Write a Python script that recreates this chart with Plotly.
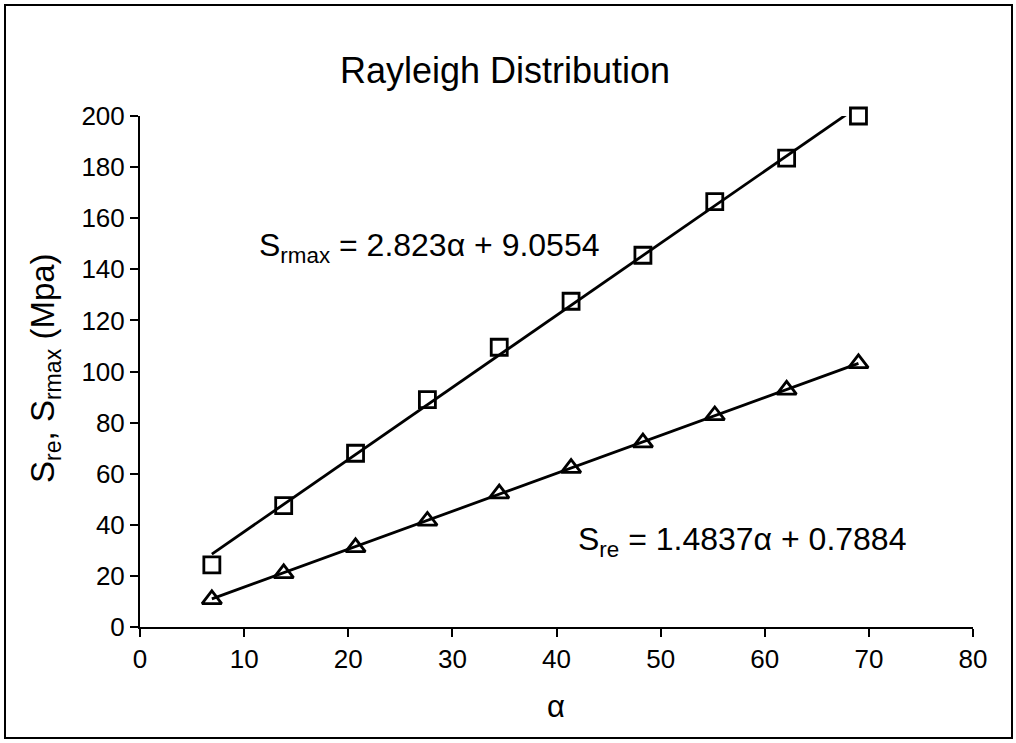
import plotly.graph_objects as go

# alpha values
alpha = [6.9, 13.8, 20.7, 27.6, 34.5, 41.4, 48.3, 55.2, 62.1, 69.0]
# maximum stress S_rmax (MPa)
s_rmax = [24.3, 47.5, 68.0, 89.0, 109.5, 127.5, 145.5, 166.5, 183.5, 200.0]
# equivalent stress S_re (MPa)
s_re = [10.8, 21.0, 31.2, 41.5, 52.2, 62.2, 72.2, 82.8, 92.8, 103.2]

# linear fits as stated in the equations
fit_rmax = (2.823, 9.0554)
fit_re = (1.4837, 0.7884)

x_ticks = [0, 10, 20, 30, 40, 50, 60, 70, 80]
y_ticks = [0, 20, 40, 60, 80, 100, 120, 140, 160, 180, 200]

FONT = "Liberation Sans, Arial, sans-serif"
W, H = 1016, 743
L, R, T, B = 140, 43, 116, 116

fit_x = [alpha[0], alpha[-1]]

fig = go.Figure()

fig.add_trace(go.Scatter(
    x=fit_x, y=[fit_rmax[0] * v + fit_rmax[1] for v in fit_x],
    mode="lines", line=dict(color="black", width=2.8), hoverinfo="skip"))
fig.add_trace(go.Scatter(
    x=fit_x, y=[fit_re[0] * v + fit_re[1] for v in fit_x],
    mode="lines", line=dict(color="black", width=2.8), hoverinfo="skip"))

fig.add_trace(go.Scatter(
    x=alpha, y=s_rmax, mode="markers", cliponaxis=False,
    marker=dict(symbol="square-open", size=16, color="black",
                line=dict(color="black", width=2.8))))
fig.add_trace(go.Scatter(
    x=alpha, y=s_re, mode="markers", cliponaxis=False,
    marker=dict(symbol="triangle-up-open", size=17, color="black",
                line=dict(color="black", width=2.8))))

pw, ph = W - L - R, H - T - B


def px_x(p):
    return (p - L) / pw


def px_y(p):
    return (H - B - p) / ph


# outer chart border
fig.add_shape(type="rect", xref="paper", yref="paper",
              x0=px_x(5), x1=px_x(1012), y0=px_y(738), y1=px_y(5),
              line=dict(color="black", width=2), layer="below")

eq_font = dict(family=FONT, size=32, color="black")
fig.add_annotation(x=px_x(257), y=px_y(247), xref="paper", yref="paper",
                   xanchor="left", yanchor="middle",
                   text="S<sub>rmax</sub> = 2.823\u03b1 + 9.0554",
                   showarrow=False, font=eq_font)
fig.add_annotation(x=px_x(576), y=px_y(541), xref="paper", yref="paper",
                   xanchor="left", yanchor="middle",
                   text="S<sub>re</sub> = 1.4837\u03b1 + 0.7884",
                   showarrow=False, font=eq_font)

# axis titles
fig.add_annotation(x=px_x(45), y=px_y(368), xref="paper", yref="paper",
                   xanchor="center", yanchor="middle", textangle=-90,
                   text="S<sub>re</sub>, S<sub>rmax</sub> (Mpa)",
                   showarrow=False, font=dict(family=FONT, size=33, color="black"))
fig.add_annotation(x=px_x(556), y=px_y(706), xref="paper", yref="paper",
                   xanchor="center", yanchor="middle",
                   text="\u03b1", showarrow=False,
                   font=dict(family=FONT, size=31, color="black"))

fig.update_layout(
    width=W, height=H,
    margin=dict(l=L, r=R, t=T, b=B),
    paper_bgcolor="white", plot_bgcolor="white",
    showlegend=False,
    title=dict(text="Rayleigh Distribution", x=505 / W, xanchor="center",
               y=1 - 70 / H, yanchor="middle",
               font=dict(family=FONT, size=36, color="black")),
    font=dict(family=FONT, color="black"),
)

fig.update_xaxes(range=[0, 80], tickvals=x_ticks, showgrid=False, zeroline=False,
                 showline=True, linecolor="black", linewidth=2,
                 ticks="outside", ticklen=8, tickwidth=2, tickcolor="black",
                 tickfont=dict(family=FONT, size=26, color="black"))
fig.update_yaxes(range=[0, 200], tickvals=y_ticks, showgrid=False, zeroline=False,
                 showline=True, linecolor="black", linewidth=2,
                 ticks="outside", ticklen=8, tickwidth=2, tickcolor="black",
                 tickfont=dict(family=FONT, size=26, color="black"))

fig.write_html("out.html")
